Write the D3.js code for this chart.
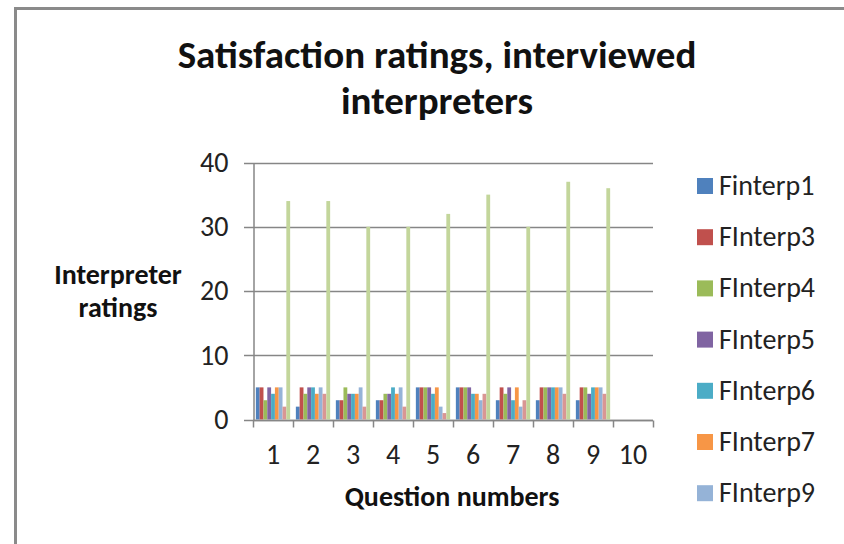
<!DOCTYPE html>
<html>
<head>
<meta charset="utf-8">
<script src="https://cdn.jsdelivr.net/npm/d3@7"></script>
<style>
  body { margin: 0; background: #fff; }
  svg { display: block; font-family: Carlito, Calibri, Lato, sans-serif; }
</style>
</head>
<body>
<div class="graphic_container"></div>
<script>
// question numbers along the x axis
const questions = ['1', '2', '3', '4', '5', '6', '7', '8', '9', '10'];

// series names; the legend in the source only shows the first seven
const seriesNames = ['Finterp1', 'FInterp3', 'FInterp4', 'FInterp5', 'FInterp6', 'FInterp7', 'FInterp9', 'FInterp10', 'Total'];
const seriesColors = ['#4F81BD', '#C0504D', '#9BBB59', '#8064A2', '#4BACC6', '#F79646', '#95B3D7', '#D99694', '#C3D69B'];
const legendCount = 7;

// ratings per question, question 10 left empty
const finterp1  = [5, 2, 3, 3, 5, 5, 3, 3, 3, 0];
const finterp3  = [5, 5, 3, 3, 5, 5, 5, 5, 5, 0];
const finterp4  = [3, 4, 5, 4, 5, 5, 4, 5, 5, 0];
const finterp5  = [5, 5, 4, 4, 5, 5, 5, 5, 4, 0];
const finterp6  = [4, 5, 4, 5, 4, 4, 3, 5, 5, 0];
const finterp7  = [5, 4, 4, 4, 5, 4, 5, 5, 5, 0];
const finterp9  = [5, 5, 5, 5, 2, 3, 2, 5, 5, 0];
const finterp10 = [2, 4, 2, 2, 1, 4, 3, 4, 4, 0];
const totals    = [34, 34, 30, 30, 32, 35, 30, 37, 36, 0];

const yTicks = [0, 10, 20, 30, 40];

const seriesValues = [finterp1, finterp3, finterp4, finterp5, finterp6, finterp7, finterp9, finterp10, totals];

const width = 844, height = 544;

const svg = d3.select('.graphic_container')
  .append('svg')
  .attr('width', width)
  .attr('height', height);

// chart area frame (cut off right and bottom)
svg.append('path')
  .attr('d', 'M15.5,' + (height + 5) + ' L15.5,8.5 L' + (width + 5) + ',8.5')
  .attr('fill', 'none')
  .attr('stroke', '#8a8a8a')
  .attr('stroke-width', 3);

// scales
const x0 = d3.scaleBand()
  .domain(questions)
  .range([253, 653])
  .paddingInner(0)
  .paddingOuter(0);

const x1 = d3.scaleBand()
  .domain(seriesNames)
  .range([0, x0.bandwidth()])
  .paddingInner(0)
  .paddingOuter(0.75); // excel gap width 150%

const y = d3.scaleLinear()
  .domain([0, 40])
  .range([419.5, 162.5]);

const gridColor = '#868686';

// gridlines
svg.append('g')
  .selectAll('line')
  .data(yTicks)
  .join('line')
  .attr('x1', 244)
  .attr('x2', 653)
  .attr('y1', d => Math.round(y(d)) + 0.5)
  .attr('y2', d => Math.round(y(d)) + 0.5)
  .attr('stroke', gridColor)
  .attr('stroke-width', 1.5);

// y axis
const yAxis = svg.append('g')
  .attr('transform', 'translate(253.5,0)')
  .call(d3.axisLeft(y).tickValues(yTicks).tickSize(0).tickPadding(25));
yAxis.select('.domain').attr('stroke', gridColor).attr('stroke-width', 1.5);
yAxis.selectAll('text')
  .attr('font-family', 'Carlito, Calibri, Lato, sans-serif')
  .attr('font-size', 28)
  .attr('fill', '#222');

// bars
const groups = svg.append('g')
  .selectAll('g')
  .data(questions)
  .join('g')
  .attr('transform', d => 'translate(' + x0(d) + ',0)');

groups.selectAll('rect')
  .data((q, qi) => seriesNames.map((s, si) => ({ series: s, value: seriesValues[si][qi], color: seriesColors[si] })))
  .join('rect')
  .attr('x', d => x1(d.series))
  .attr('y', d => y(d.value))
  .attr('width', x1.bandwidth())
  .attr('height', d => y(0) - y(d.value))
  .attr('fill', d => d.color);

// x axis with ticks on category boundaries
const xAxisG = svg.append('g')
  .attr('transform', 'translate(0,' + (Math.round(y(0)) + 0.5) + ')');
xAxisG.append('line')
  .attr('x1', 253).attr('x2', 653)
  .attr('stroke', gridColor).attr('stroke-width', 1.5);
xAxisG.selectAll('.bound')
  .data(questions.concat(['end']))
  .join('line')
  .attr('class', 'bound')
  .attr('x1', (d, i) => Math.round(x0.range()[0] + i * x0.step()) + 0.5)
  .attr('x2', (d, i) => Math.round(x0.range()[0] + i * x0.step()) + 0.5)
  .attr('y1', 0)
  .attr('y2', 7)
  .attr('stroke', gridColor).attr('stroke-width', 1.5);
xAxisG.selectAll('.lbl')
  .data(questions)
  .join('text')
  .attr('class', 'lbl')
  .attr('x', d => x0(d) + x0.bandwidth() / 2)
  .attr('y', 43)
  .attr('text-anchor', 'middle')
  .attr('font-size', 28)
  .attr('fill', '#222')
  .text(d => d);

// title, two lines
svg.append('text')
  .attr('x', 437).attr('y', 68)
  .attr('text-anchor', 'middle')
  .attr('font-weight', 'bold')
  .attr('font-size', 39)
  .attr('fill', '#111')
  .text('Satisfaction ratings, interviewed');
svg.append('text')
  .attr('x', 437).attr('y', 114)
  .attr('text-anchor', 'middle')
  .attr('font-weight', 'bold')
  .attr('font-size', 39)
  .attr('fill', '#111')
  .text('interpreters');

// axis titles
const yTitle = svg.append('text')
  .attr('text-anchor', 'middle')
  .attr('font-weight', 'bold')
  .attr('font-size', 28)
  .attr('fill', '#111');
yTitle.append('tspan').attr('x', 118).attr('y', 284).text('Interpreter');
yTitle.append('tspan').attr('x', 118).attr('y', 317).text('ratings');

svg.append('text')
  .attr('x', 452)
  .attr('y', 506)
  .attr('text-anchor', 'middle')
  .attr('font-weight', 'bold')
  .attr('font-size', 28)
  .attr('fill', '#111')
  .text('Question numbers');

// legend
const legend = svg.append('g')
  .selectAll('g')
  .data(seriesNames.slice(0, legendCount))
  .join('g')
  .attr('transform', (d, i) => 'translate(697,' + (186 + i * 51.2) + ')');
legend.append('rect')
  .attr('x', 0).attr('y', -8)
  .attr('width', 16).attr('height', 16)
  .attr('fill', (d, i) => seriesColors[i]);
legend.append('text')
  .attr('x', 22)
  .attr('y', 9)
  .attr('font-size', 28)
  .attr('fill', '#222')
  .text(d => d);
</script>
</body>
</html>
